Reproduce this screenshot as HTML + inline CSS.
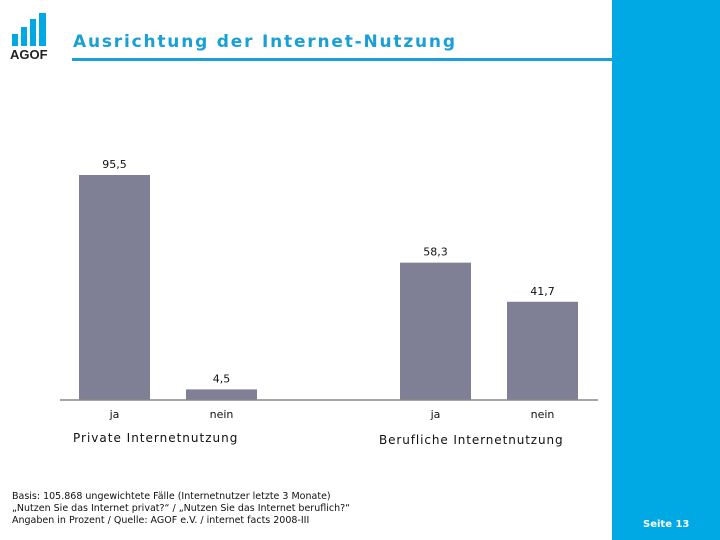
<!DOCTYPE html>
<html><head><meta charset="utf-8"><style>
body{margin:0;width:720px;height:540px;position:relative;background:#fff;font-family:"DejaVu Sans","Liberation Sans",sans-serif;overflow:hidden}
.a{position:absolute}
</style></head><body>
<div class="a" style="left:612px;top:0;width:108px;height:540px;background:#00a9e3"></div>
<div class="a" style="left:643px;top:519px;color:#fff;font-size:10px;font-weight:bold">Seite 13</div>
<svg class="a" style="left:0;top:0" width="612" height="540">
<g fill="#00a9e3">
<rect x="12" y="34" width="6" height="12"/><rect x="21" y="27" width="6" height="19"/><rect x="30" y="19" width="6" height="27"/><rect x="39" y="13" width="7" height="33"/>
<text x="10" y="59" fill="#222" font-size="13" font-weight="bold" font-family="Liberation Sans,sans-serif">AGOF</text>
</g>
<text x="73" y="47" fill="#1a9fd6" font-size="17" font-weight="bold" letter-spacing="1.8">Ausrichtung der Internet-Nutzung</text>
<rect x="72" y="58" width="540" height="3" fill="#1a9fd6"/>
<g id="bars"></g>
<line x1="60" y1="400" x2="598" y2="400" stroke="#888" stroke-width="1.5"/>
<text x="73" y="442" font-size="12" fill="#111" letter-spacing="1">Private Internetnutzung</text>
<text x="379" y="444" font-size="12" fill="#111" letter-spacing="0.9">Berufliche Internetnutzung</text>
<g font-size="9.5" fill="#111">
<text x="12" y="499">Basis: 105.868 ungewichtete Fälle (Internetnutzer letzte 3 Monate)</text>
<text x="12" y="511">„Nutzen Sie das Internet privat?“ / „Nutzen Sie das Internet beruflich?“</text>
<text x="12" y="523">Angaben in Prozent / Quelle: AGOF e.V. / internet facts 2008-III</text>
</g>
</svg>
<script>
const categories=["ja","nein","ja","nein"];
const values=[95.5,4.5,58.3,41.7];
const labels=["95,5","4,5","58,3","41,7"];
const xs=[79,186,400,507];
const base=400,scale=225/95.5,bw=71;
const y=v=>base-v*scale;
const g=document.getElementById('bars');
const ns="http://www.w3.org/2000/svg";
values.forEach((v,i)=>{
 const r=document.createElementNS(ns,'rect');
 
 
 r.setAttribute('x',xs[i]);r.setAttribute('y',y(v));r.setAttribute('width',bw);r.setAttribute('height',base-y(v));r.setAttribute('fill','#7f7f95');
 g.appendChild(r);
 const t=document.createElementNS(ns,'text');
 
 
 t.setAttribute('x',xs[i]+bw/2);t.setAttribute('y',y(v)-7);t.setAttribute('text-anchor','middle');t.setAttribute('font-size','11');t.setAttribute('fill','#111');
 t.textContent=labels[i];g.appendChild(t);
 const c=document.createElementNS(ns,'text');
 
 
 c.setAttribute('x',xs[i]+bw/2);c.setAttribute('y',418);c.setAttribute('text-anchor','middle');c.setAttribute('font-size','11');c.setAttribute('fill','#111');
 c.textContent=categories[i];g.appendChild(c);
});
</script>
</body></html>
